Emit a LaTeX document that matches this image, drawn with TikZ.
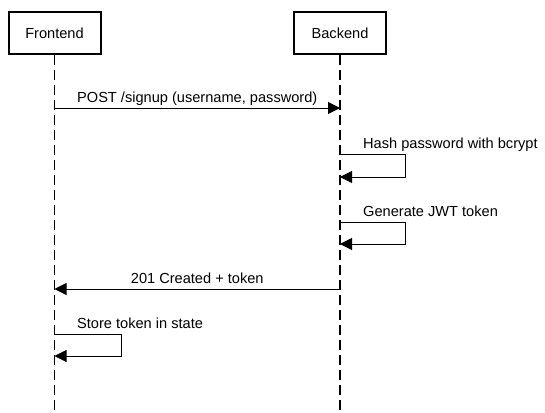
\documentclass[tikz,border=0pt]{standalone}
\usepackage{fontspec}
\setmainfont{Liberation Sans}
\usetikzlibrary{arrows.meta,calc}

\begin{document}
\begin{tikzpicture}[x=1pt,y=-1pt,
	actor/.style={draw,line width=2pt,minimum width=92pt,minimum height=42pt,inner sep=0pt,font=\fontsize{14.6}{17}\selectfont},
	life/.style={line width=1.5pt,dash pattern=on 10pt off 5pt},
	msg/.style={line width=1pt,-{Triangle[length=12pt,width=12pt]}},
	lbl/.style={anchor=base,inner sep=0pt,font=\fontsize{14.6}{17}\selectfont},
	lbll/.style={lbl,anchor=base west}]
	\useasboundingbox (0,0) rectangle (545,412);
	\def\fx{54.5}
	\def\bx{340}
	\node[actor] (front) at (\fx,33) {Frontend};
	\node[actor] (back) at (\bx,33) {Backend};
	\path
	(\fx,412) coordinate (frontend)
	(\bx,412) coordinate (backend)
	(\fx,108) coordinate (f1) (\bx,108) coordinate (b1)
	(\bx,154) coordinate (h1) (405,154) coordinate (h2) (\bx,177) coordinate (h3)
	(\bx,222) coordinate (j1) (405,222) coordinate (j2) (\bx,244) coordinate (j3)
	(\bx,289) coordinate (b2) (\fx,289) coordinate (f2)
	(\fx,334) coordinate (s1) (121,334) coordinate (s2) (\fx,356) coordinate (s3)
	;
	% lifelines
	\draw[life] (front.south) -- (frontend);
	\draw[life] (back.south) -- (backend);
	% messages
	\draw[msg] (f1) -- (b1);
	\node[lbl] (post) at ($(f1)!.5!(b1)+(0,-6)$) {POST /signup (username, password)};
	\draw[msg] (h1) -- (h2) |- (h3);
	\node[lbll] (hash) at (363,148) {Hash password with bcrypt};
	\draw[msg] (j1) -- (j2) |- (j3);
	\node[lbll] (jwt) at (363,216) {Generate JWT token};
	\draw[msg] (b2) -- (f2);
	\node[lbl] (created) at ($(f2)!.5!(b2)+(0,-6)$) {201 Created + token};
	\draw[msg] (s1) -- (s2) |- (s3);
	\node[lbll] (store) at (77,328) {Store token in state};
\end{tikzpicture}
\end{document}
